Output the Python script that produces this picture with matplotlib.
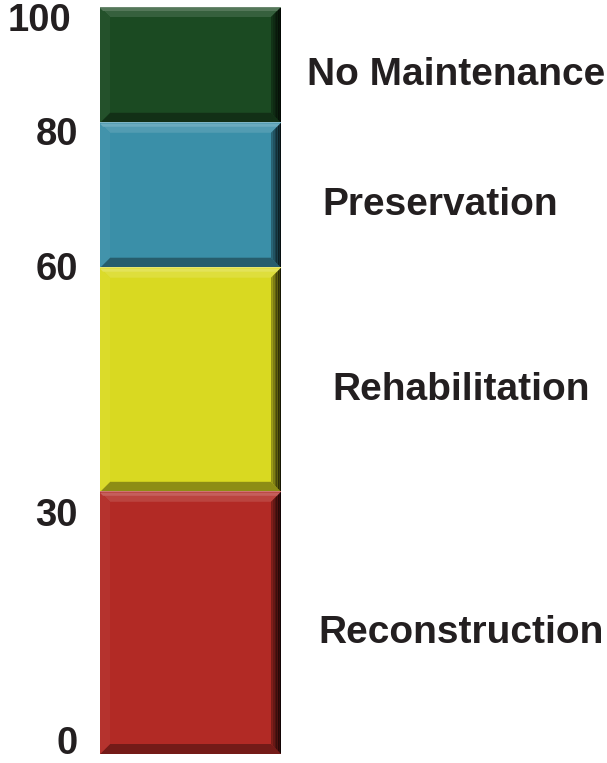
import numpy as np
import matplotlib
matplotlib.use("Agg")
import matplotlib.pyplot as plt
from matplotlib.patches import Polygon
from matplotlib.colors import to_rgb

plt.rcParams['font.family'] = ['Liberation Sans', 'DejaVu Sans']

# condition bands, bottom to top
bands = ["Reconstruction", "Rehabilitation", "Preservation", "No Maintenance"]
lower = [0, 30, 60, 80]
upper = [30, 60, 80, 100]
ticks = [0, 30, 60, 80, 100]
colors = ["#b22a25", "#d9d921", "#3a8fa8", "#1b4a22"]

# scale is stretched non-uniformly: value -> share of bar height
scale_vals = [0, 30, 60, 80, 100]
scale_pos = [0, 35.1, 65.1, 84.5, 100]


def fwd(v):
    return np.interp(v, scale_vals, scale_pos)


def inv(p):
    return np.interp(p, scale_pos, scale_vals)


W, H = 607, 763
fig = plt.figure(figsize=(W / 100, H / 100), dpi=100)
ax = fig.add_axes([100 / W, 9 / H, 181 / W, 747 / H])
ax.set_yscale('function', functions=(fwd, inv))
ax.set_xlim(-0.5, 0.5)
ax.set_ylim(0, 100)
ax.axis('off')

heights = [u - l for l, u in zip(lower, upper)]
bars = ax.bar([0] * len(bands), heights, bottom=lower, width=1.0,
              color=colors, edgecolor='none', zorder=1)


def shade(c, f):
    r = np.array(to_rgb(c))
    if f >= 0:
        return tuple(r + (1 - r) * f)
    return tuple(r * (1 + f))


to_data = ax.transData.inverted()


def poly(pts, color, z=2):
    d = to_data.transform(np.array(pts))
    ax.add_patch(Polygon(d, closed=True, facecolor=color, edgecolor='none', zorder=z))


# bevelled edges around each band
b = 10
for bar, c in zip(bars, colors):
    (x0, y0), (x1, y1) = ax.transData.transform(
        [(bar.get_x(), bar.get_y()), (bar.get_x() + bar.get_width(), bar.get_y() + bar.get_height())])
    poly([(x0, y1), (x1, y1), (x1 - b, y1 - b), (x0 + b, y1 - b)], shade(c, 0.12))
    poly([(x0, y1 - 1), (x1, y1 - 1), (x1 - 3, y1 - 4), (x0 + 3, y1 - 4)], shade(c, 0.25), 3)
    poly([(x0, y0), (x1, y0), (x1 - b, y0 + b), (x0 + b, y0 + b)], shade(c, -0.35))
    poly([(x0, y0), (x0 + b, y0 + b), (x0 + b, y1 - b), (x0, y1)], shade(c, 0.04))
    steps = 6
    for k in range(steps):
        a = b * (1 - k / steps)
        a2 = b * (1 - (k + 1) / steps)
        poly([(x1 - a, y0 + a), (x1 - a2, y0 + a2), (x1 - a2, y1 - a2), (x1 - a, y1 - a)],
             shade(c, -0.2 - 0.7 * (k + 1) / steps), 4)
    poly([(x0, y1 - 0.6), (x1, y1 - 0.6), (x1, y1 + 0.6), (x0, y1 + 0.6)], shade(c, 0.35), 5)

# value labels down the left side
tick_dy = [10, -24, -2, -12, -14]
tick_x = [78, 78, 78, 78, 71]
for v, dy, tx in zip(ticks, tick_dy, tick_x):
    _, py = ax.transData.transform((0, v))
    fig.text(tx / W, (py + dy) / H, str(v), ha='right', va='center',
             fontsize=27.5, fontweight='bold', color='#231f20')

# band names on the right
name_x = [461, 461, 440, 456]
for name, l, u, nx in zip(bands, lower, upper, name_x):
    _, p0 = ax.transData.transform((0, l))
    _, p1 = ax.transData.transform((0, u))
    fig.text(nx / W, ((p0 + p1) / 2 - 10) / H, name, ha='center', va='center',
             fontsize=28, fontweight='bold', color='#231f20')

fig.savefig('out.png', dpi=100)
